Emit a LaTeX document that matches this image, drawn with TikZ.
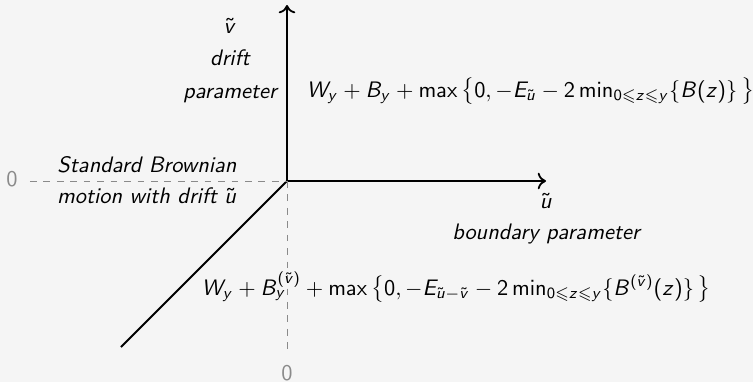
\documentclass[tikz,border=0pt]{standalone}
\usepackage{amsmath,amssymb}
\usepackage{xcolor}
\usetikzlibrary{arrows.meta,positioning}
% sans serif math, as on a slide
\DeclareSymbolFont{sfletters}{OT1}{cmss}{m}{sl}
\SetSymbolFont{operators}{normal}{OT1}{cmss}{m}{n}
\makeatletter
\def\sfletter#1{\DeclareMathSymbol{#1}{\mathalpha}{sfletters}{`#1}}
\@tfor\x:=abcdefghijklmnopqrstuvwxyzABCDEFGHIJKLMNOPQRSTUVWXYZ\do{\expandafter\sfletter\x}
\makeatother
\definecolor{bgcol}{HTML}{F5F5F5}
\definecolor{zerocol}{HTML}{8A8A8A}
\tikzset{
  axis/.style={thick, -{To[length=1.3mm, width=2.6mm]}},
  plainaxis/.style={thick},
  guide/.style={dashed, zerocol, thin},
  lbl/.style={font=\sffamily\itshape, inner sep=1pt, anchor=base},
  formula/.style={font=\sffamily, inner sep=1pt, anchor=base west},
  zero/.style={font=\sffamily, text=zerocol, anchor=base},
}

\begin{document}
\begin{tikzpicture}[x=0.4464pt, y=-0.4464pt]

\fill[bgcol] (0,0) rectangle (753,382);
\useasboundingbox (0,0) rectangle (753,382);

% ===== Axes =====
\coordinate (O) at (287,181);
\coordinate (vtop) at (287,5);
\coordinate (uend) at (546,181);
\coordinate (diag) at (121,347);

\draw[axis] (O) -- (vtop);
\draw[axis] (O) -- (uend);
\draw[plainaxis] (O) -- (diag);

% ===== Zero levels =====
\node[zero] (zleft) at (12,186) {0};
\node[zero] (zbot) at (287,380) {0};
\draw[guide, shorten <=2pt] (zleft.east |- O) -- (O);
\draw[guide, shorten >=1pt] (O) -- (zbot.north);

% ===== Axis labels =====
\node[lbl] (vtil) at (230,33) {$\tilde v$};
\node[lbl] (vdrift) at (230,65) {drift};
\node[lbl] (vparam) at (230,98) {parameter};

\node[lbl] (util) at (546,208) {$\tilde u$};
\node[lbl] (uparam) at (546,239) {boundary parameter};

\node[lbl] (bm1) at (147,172) {Standard Brownian};
\node[lbl] (bm2) at (147,203) {motion with drift $\tilde u$};

% ===== Formulas =====
\node[formula] (upper) at (304,97)
  {$W_y + B_y + \max\,\bigl\{0, -E_{\tilde u} - 2\min_{0\leqslant z\leqslant y}\{B(z)\}\,\bigr\}$};
\node[formula] (lower) at (199,295)
  {$W_y + B^{(\tilde v)}_y + \max\,\bigl\{0, -E_{\tilde u-\tilde v} - 2\min_{0\leqslant z\leqslant y}\{B^{(\tilde v)}(z)\}\,\bigr\}$};

\end{tikzpicture}
\end{document}
